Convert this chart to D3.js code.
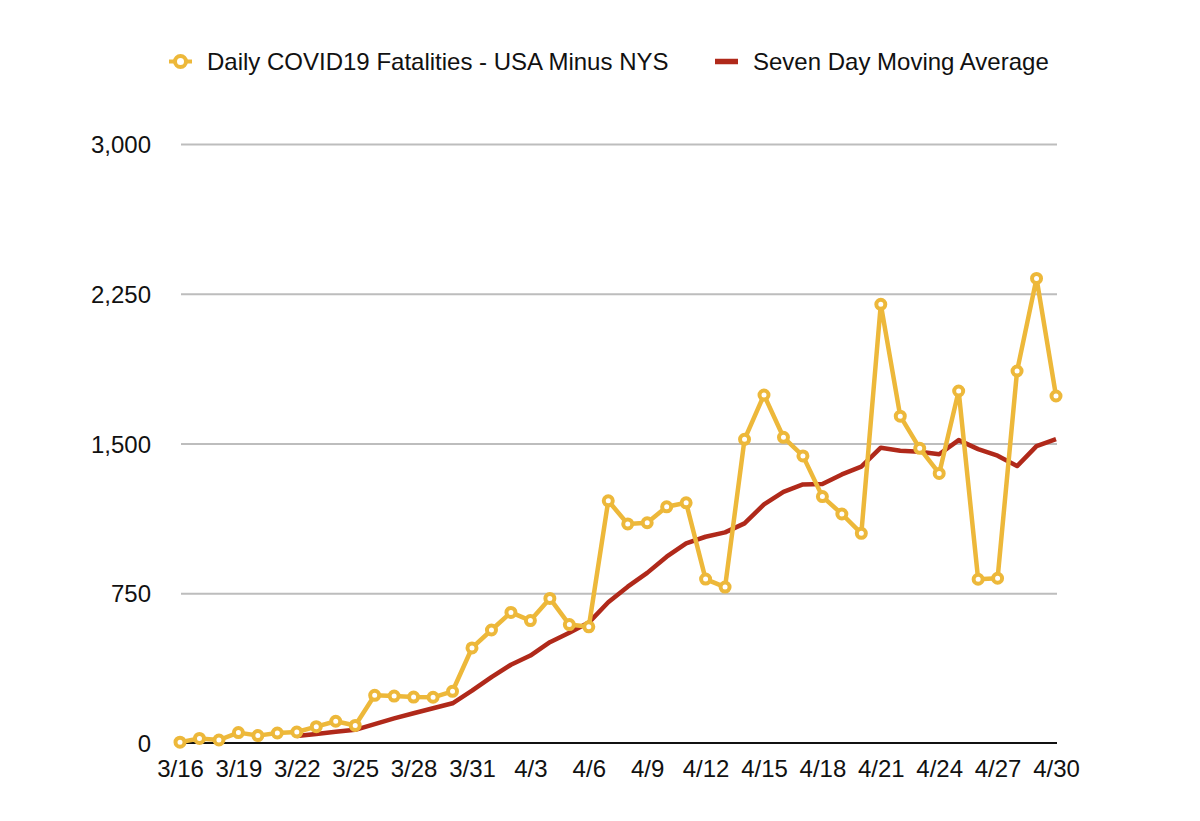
<!DOCTYPE html>
<html>
<head>
<meta charset="utf-8">
<script src="https://cdn.jsdelivr.net/npm/d3@7"></script>
<style>
  html, body { margin: 0; padding: 0; background: #fff; }
  svg { display: block; font-family: "Liberation Sans", Arial, Helvetica, sans-serif; }
</style>
</head>
<body>
<svg id="chart" width="1200" height="821"></svg>
<script>
const dates = ["3/16","3/17","3/18","3/19","3/20","3/21","3/22","3/23","3/24","3/25","3/26","3/27","3/28","3/29","3/30","3/31",
  "4/1","4/2","4/3","4/4","4/5","4/6","4/7","4/8","4/9","4/10","4/11","4/12","4/13","4/14","4/15","4/16","4/17","4/18","4/19","4/20",
  "4/21","4/22","4/23","4/24","4/25","4/26","4/27","4/28","4/29","4/30"];
const daily = [4,23,15,52,37,50,55,82,109,88,239,235,230,229,259,476,
  566,654,613,724,593,582,1213,1097,1103,1183,1203,821,781,1521,1743,1531,1438,1234,1147,1050,
  2197,1637,1476,1350,1763,820,825,1863,2327,1738];
const maStart = "3/22";
const movingAvg = [35,45,56,66,95,123,149,174,199,262,330,392,438,505,552,603,705,783,852,933,1000,1033,1055,1100,1195,1258,1295,1297,1345,1384,1479,1464,1459,1446,1517,1472,1439,1387,1487,1522];
const yTicks = [0,750,1500,2250,3000];
const xTickLabels = ["3/16","3/19","3/22","3/25","3/28","3/31","4/3","4/6","4/9","4/12","4/15","4/18","4/21","4/24","4/27","4/30"];
const seriesNames = ["Daily COVID19 Fatalities - USA Minus NYS", "Seven Day Moving Average"];

const gold = "#EDB83A", red = "#B0291A";
const svg = d3.select("#chart");
const x = d3.scalePoint().domain(dates).range([180, 1056]);
const y = d3.scaleLinear().domain([0, 3000]).range([743, 144]);

// grid
const yAxis = d3.axisLeft(y).tickValues(yTicks).tickSize(-(1057 - 181)).tickPadding(30).tickFormat(d3.format(","));
const gy = svg.append("g").attr("transform", "translate(181,0)").call(yAxis);
gy.select(".domain").remove();
gy.selectAll(".tick line").attr("stroke", "#bdbdbd").attr("stroke-width", 2);
gy.selectAll(".tick text").attr("font-size", 24).attr("fill", "#111").attr("x", -30).attr("dy", "0.36em");
gy.selectAll(".tick").filter(d => d === 0).select("line").attr("stroke", "none");

// x axis
const xAxis = d3.axisBottom(x).tickValues(xTickLabels).tickSize(0);
const gx = svg.append("g").attr("transform", `translate(0,${y(0)})`).call(xAxis);
gx.select(".domain").remove();
gx.selectAll(".tick text").attr("font-size", 24).attr("fill", "#111").attr("y", 34).attr("dy", 0);
svg.append("line").attr("x1", 181).attr("x2", 1057).attr("y1", y(0)).attr("y2", y(0))
  .attr("stroke", "#111").attr("stroke-width", 2.2);

// moving average
const maDates = dates.slice(dates.indexOf(maStart));
const maLine = d3.line().x((d, i) => x(maDates[i])).y(d => y(d));
svg.append("path").datum(movingAvg).attr("d", maLine).attr("fill", "none")
  .attr("stroke", red).attr("stroke-width", 4.5).attr("stroke-linejoin", "round");

// daily
const dLine = d3.line().x((d, i) => x(dates[i])).y(d => y(d));
svg.append("path").datum(daily).attr("d", dLine).attr("fill", "none")
  .attr("stroke", gold).attr("stroke-width", 4.5).attr("stroke-linejoin", "round");
svg.append("g").selectAll("circle").data(daily).join("circle")
  .attr("cx", (d, i) => x(dates[i])).attr("cy", d => y(d)).attr("r", 4.5)
  .attr("fill", "#fff").attr("stroke", gold).attr("stroke-width", 4);

// legend
const lg = svg.append("g");
lg.append("line").attr("x1", 169).attr("x2", 192).attr("y1", 61.5).attr("y2", 61.5).attr("stroke", gold).attr("stroke-width", 4);
lg.append("circle").attr("cx", 180.5).attr("cy", 61.5).attr("r", 5.5).attr("fill", "#fff").attr("stroke", gold).attr("stroke-width", 4);
lg.append("text").attr("x", 207).attr("y", 62).attr("dy", "0.35em").attr("font-size", 24).attr("fill", "#111").text(seriesNames[0]);
lg.append("line").attr("x1", 715).attr("x2", 738).attr("y1", 61.5).attr("y2", 61.5).attr("stroke", red).attr("stroke-width", 5.5);
lg.append("text").attr("x", 753).attr("y", 62).attr("dy", "0.35em").attr("font-size", 24).attr("fill", "#111").text(seriesNames[1]);
</script>
</body>
</html>
